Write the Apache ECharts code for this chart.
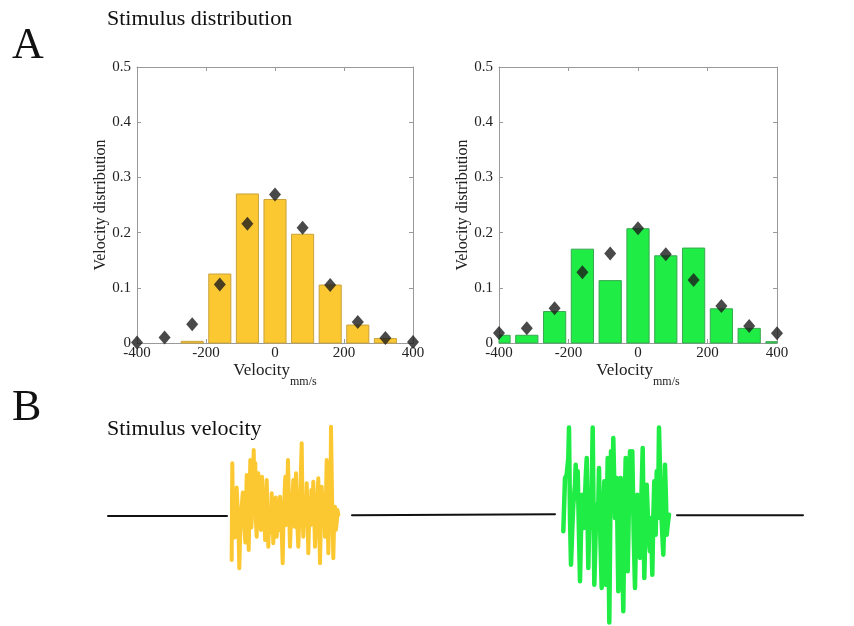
<!DOCTYPE html>
<html>
<head>
<meta charset="utf-8">
<script src="https://cdn.jsdelivr.net/npm/echarts@6/dist/echarts.min.js"></script>
<style>
  html, body { margin: 0; padding: 0; background: #fff; }
  #chart { width: 854px; height: 626px; }
</style>
</head>
<body>
<div id="chart"></div>
<script>
// Velocity bins (mm/s) shared by both histograms
const binCenters = [-400, -320, -240, -160, -80, 0, 80, 160, 240, 320, 400];
const binWidth = 64; // drawn width of each bar, in mm/s

// Narrow stimulus: measured histogram (bars) and target distribution (diamonds)
const narrowHist   = [0, 0, 0.003, 0.125, 0.27, 0.26, 0.197, 0.105, 0.0325, 0.008, 0];
const narrowTarget = [0.001, 0.01, 0.034, 0.106, 0.216, 0.269, 0.209, 0.105, 0.038, 0.009, 0.002];

// Wide stimulus
const wideHist   = [0.014, 0.014, 0.057, 0.17, 0.113, 0.207, 0.158, 0.172, 0.062, 0.0265, 0.0024];
const wideTarget = [0.018, 0.0265, 0.063, 0.128, 0.162, 0.208, 0.161, 0.114, 0.067, 0.031, 0.0175];

// Stimulus velocity trace: time (ms) and velocity (mm/s)
const restA = { t: [0, 1190], v: [-4, -4] };
const restB = { t: [2440, 4470], v: [-1, 3] };
const restC = { t: [5690, 6950], v: [-1, -1] };

const narrowTime = [1237,1240,1243,1251,1260,1268,1277,1287,1297,1305,1313,1325,1337,1348,1360,1373,
  1387,1397,1407,1415,1423,1433,1443,1450,1457,1465,1473,1480,1487,1495,1503,1511,1520,1530,1540,1548,
  1557,1563,1570,1578,1587,1595,1603,1611,1620,1628,1637,1645,1653,1661,1670,1678,1687,1695,1703,1711,
  1720,1733,1747,1753,1760,1766,1773,1780,1787,1793,1800,1810,1820,1828,1837,1845,1853,1860,1867,1873,
  1880,1891,1903,1911,1920,1928,1937,1945,1953,1960,1967,1977,1987,1995,2003,2011,2020,2026,2033,2043,
  2053,2061,2070,2078,2087,2095,2103,2111,2120,2128,2137,2145,2153,2161,2170,2178,2187,2195,2203,2210,
  2217,2223,2230,2241,2253,2261,2270,2278,2287,2295,2303];
const narrowVel = [-180,60,207,-40,73,-90,-7,110,20,-60,-213,-30,33,90,-20,-110,
  160,40,-140,30,220,-50,20,120,260,90,207,-30,-87,60,167,-40,87,-60,153,60,
  -33,40,-100,30,140,10,-127,-30,20,-70,87,-20,-113,40,-20,70,-87,-30,20,-60,
  73,-20,-193,-60,20,90,153,-40,20,120,220,30,-127,-40,20,70,140,20,-47,60,
  167,-20,-127,-40,20,160,287,40,-87,-20,47,-40,127,10,-153,-30,20,-40,100,-20,
  133,20,-127,-50,-7,70,147,-30,-193,-40,113,30,-20,60,-87,40,220,30,-153,-20,
  87,-50,353,60,-173,-40,33,-60,-33,20,0];

const wideTime = [4553,4570,4587,4603,4610,4620,4630,4643,4653,4670,4677,4690,4697,4710,4720,4733,
  4743,4757,4763,4777,4787,4803,4817,4830,4847,4863,4877,4887,4900,4910,4923,4937,4953,4963,4977,4987,
  4997,5013,5023,5030,5043,5053,5070,5087,5103,5113,5127,5140,5153,5163,5177,5197,5210,5220,5233,5243,
  5257,5270,5283,5293,5307,5320,5333,5347,5363,5377,5387,5403,5420,5430,5443,5453,5463,5477,5487,5500,
  5510,5520,5530,5543,5553,5563,5570,5580,5587,5597,5610];
const wideVel = [-65,148,161,228,350,-12,-199,-52,41,121,201,68,175,-79,-265,-12,
  81,-52,-12,148,228,-212,55,-52,350,-279,-65,41,-12,188,-79,-292,-12,135,-279,15,
  228,-430,-12,255,121,308,-12,148,-305,-12,148,-119,-385,-12,228,-225,55,255,15,255,
  -79,-292,-12,81,-65,-172,55,268,-252,-12,121,-52,-145,-12,-239,-12,135,-79,175,-12,
  350,188,41,-79,-159,-12,201,55,-79,-39,1];

const serif = '"Liberation Serif", "Times New Roman", serif';
const boxColor = '#9a9a9a';
const yellow = '#FCC832';
const green = '#1FEC44';

const pairs = (xs, ys) => xs.map((x, i) => [x, ys[i]]);

function histAxes(gridIndex) {
  const tickStyle = { show: true, inside: true, length: 4, lineStyle: { color: boxColor, width: 1 } };
  const lineStyle = { show: true, onZero: false, lineStyle: { color: boxColor, width: 1 } };
  const x = [
    {
      type: 'value', gridIndex, position: 'bottom', min: -400, max: 400, interval: 200,
      axisLine: lineStyle, axisTick: tickStyle, splitLine: { show: false },
      axisLabel: { color: '#222', fontFamily: serif, fontSize: 15, margin: 3 },
      name: '{a|Velocity}{b|mm/s}', nameLocation: 'middle', nameGap: 17,
      nameTextStyle: {
        color: '#222', fontFamily: serif,
        rich: {
          a: { fontSize: 17, fontFamily: serif, color: '#222', verticalAlign: 'top', lineHeight: 20 },
          b: { fontSize: 12, fontFamily: serif, color: '#222', verticalAlign: 'bottom', lineHeight: 26 }
        }
      }
    },
    {
      type: 'value', gridIndex, position: 'top', min: -400, max: 400, interval: 200,
      axisLine: lineStyle, axisTick: tickStyle, splitLine: { show: false },
      axisLabel: { show: false }
    }
  ];
  const y = [
    {
      type: 'value', gridIndex, position: 'left', min: 0, max: 0.5, interval: 0.1,
      axisLine: lineStyle, axisTick: tickStyle, splitLine: { show: false },
      axisLabel: { color: '#222', fontFamily: serif, fontSize: 15, margin: 6,
        formatter: v => (v === 0 ? '0' : v.toFixed(1)) },
      name: 'Velocity distribution', nameLocation: 'middle', nameGap: 27,
      nameTextStyle: { color: '#222', fontFamily: serif, fontSize: 16 }
    },
    {
      type: 'value', gridIndex, position: 'right', min: 0, max: 0.5, interval: 0.1,
      axisLine: lineStyle, axisTick: tickStyle, splitLine: { show: false },
      axisLabel: { show: false }
    }
  ];
  return { x, y };
}

const leftAxes = histAxes(0);
const rightAxes = histAxes(1);

// Histogram bars as custom rectangles, clipped to the plot box so the
// edge bins at ±400 are cut at the frame.
function histBars(axisIndex, values, fill, stroke) {
  return {
    type: 'custom', xAxisIndex: axisIndex, yAxisIndex: axisIndex,
    data: pairs(binCenters, values), encode: { x: 0, y: 1 },
    renderItem: (params, api) => {
      const c = api.value(0), h = api.value(1);
      if (!h) return null;
      const p0 = api.coord([c - binWidth / 2, h]);
      const p1 = api.coord([c + binWidth / 2, 0]);
      const cs = params.coordSys;
      const shape = echarts.graphic.clipRectByRect(
        { x: p0[0], y: p0[1], width: p1[0] - p0[0], height: p1[1] - p0[1] },
        { x: cs.x, y: cs.y, width: cs.width, height: cs.height }
      );
      return shape && {
        type: 'rect', shape,
        style: { fill, stroke, lineWidth: 1 }
      };
    }
  };
}

const targetMarks = (axisIndex, values) => ({
  type: 'scatter', xAxisIndex: axisIndex, yAxisIndex: axisIndex, data: pairs(binCenters, values),
  symbol: 'diamond', symbolSize: [12, 14], clip: false, itemStyle: { color: '#1c1c1c' }, z: 5
});

const traceLine = (data, color, width) => ({
  type: 'line', xAxisIndex: 4, yAxisIndex: 4, data, showSymbol: false, symbol: 'none',
  clip: false, lineStyle: { color, width, join: 'round', cap: 'round' }
});

const option = {
  animation: false,
  backgroundColor: '#fff',
  grid: [
    { left: 137, top: 67, width: 276, height: 276 },
    { left: 499, top: 67, width: 278, height: 276 },
    { left: 108, top: 425, width: 695, height: 200 }
  ],
  xAxis: [
    ...leftAxes.x, ...rightAxes.x,
    { type: 'value', gridIndex: 2, min: 0, max: 6950, show: false }
  ],
  yAxis: [
    ...leftAxes.y, ...rightAxes.y,
    { type: 'value', gridIndex: 2, min: -440, max: 360, show: false }
  ],
  graphic: [
    { type: 'text', left: 12, top: 24, style: { text: 'A', font: '44px ' + serif, fill: '#111' } },
    { type: 'text', left: 107, top: 8, style: { text: 'Stimulus distribution', font: '22px ' + serif, fill: '#111' } },
    { type: 'text', left: 12, top: 386, style: { text: 'B', font: '44px ' + serif, fill: '#111' } },
    { type: 'text', left: 107, top: 418, style: { text: 'Stimulus velocity', font: '22px ' + serif, fill: '#111' } }
  ],
  series: [
    histBars(0, narrowHist, yellow, '#C9A23A'),
    targetMarks(0, narrowTarget),
    histBars(2, wideHist, green, '#3AA852'),
    targetMarks(2, wideTarget),
    traceLine(pairs(restA.t, restA.v), '#111', 2),
    traceLine(pairs(restB.t, restB.v), '#111', 2),
    traceLine(pairs(restC.t, restC.v), '#111', 2),
    traceLine(pairs(narrowTime, narrowVel), yellow, 4),
    traceLine(pairs(wideTime, wideVel), green, 4.5)
  ]
};

const chart = echarts.init(document.getElementById('chart'), null, { renderer: 'canvas' });
chart.setOption(option);
</script>
</body>
</html>
